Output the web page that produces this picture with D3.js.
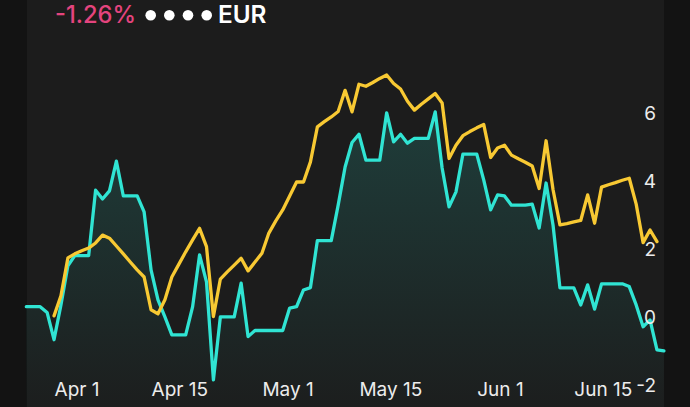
<!DOCTYPE html>
<html>
<head>
<meta charset="utf-8">
<script src="https://d3js.org/d3.v7.min.js"></script>
<style>
  html, body { margin: 0; padding: 0; background: #131313; }
  svg { display: block; }
  text { font-family: Inter, "Noto Sans", sans-serif; }
</style>
</head>
<body>
<svg id="chart" width="690" height="407"></svg>
<script>
// ---- data ----
const headerChange = "-1.26%";
const headerCurrency = "EUR";
const startCyan = "2025-03-28";   // first day of the cyan series (daily)
const startYellow = "2025-04-01"; // first day of the yellow series (daily)
const cyanValues = [
  0.30, 0.30, 0.30, 0.13, -0.67, 0.35, 1.50, 1.80, 1.80, 1.80,
  3.72, 3.46, 3.70, 4.57, 3.55, 3.55, 3.55, 3.08, 1.38, 0.50,
  0.00, -0.53, -0.53, -0.53, 0.30, 1.82, 1.03, -1.85, 0.00, 0.00,
  0.00, 0.99, -0.58, -0.40, -0.40, -0.40, -0.40, -0.40, 0.26, 0.30,
  0.79, 0.86, 2.24, 2.24, 2.24, 3.28, 4.40, 5.12, 5.36, 4.60,
  4.60, 4.60, 5.99, 5.14, 5.36, 5.10, 5.24, 5.24, 5.24, 6.02,
  4.37, 3.23, 3.67, 4.78, 4.78, 4.78, 4.02, 3.14, 3.58, 3.55,
  3.28, 3.28, 3.28, 3.31, 2.61, 3.93, 2.70, 0.85, 0.85, 0.85,
  0.35, 0.94, 0.23, 0.97, 0.97, 0.97, 0.97, 0.89, 0.35, -0.29,
  -0.09, -0.97, -1.00
];
const yellowValues = [
  0.03, 0.62, 1.73, 1.85, 1.94, 2.02, 2.17, 2.40, 2.31, 2.08,
  1.85, 1.61, 1.38, 1.17, 0.21, 0.09, 0.50, 1.17, 1.54, 1.91,
  2.26, 2.60, 2.06, 0.01, 1.11, 1.32, 1.52, 1.72, 1.35, 1.61,
  1.87, 2.46, 2.82, 3.14, 3.55, 3.96, 3.96, 4.55, 5.58, 5.73,
  5.87, 6.03, 6.65, 6.02, 6.83, 6.77, 6.88, 7.00, 7.10, 6.85,
  6.69, 6.33, 6.07, 6.24, 6.40, 6.56, 6.28, 4.65, 5.04, 5.32,
  5.44, 5.55, 5.65, 4.68, 4.96, 5.04, 4.75, 4.64, 4.54, 4.43,
  3.77, 5.17, 3.74, 2.70, 2.74, 2.79, 2.83, 3.58, 2.75, 3.81,
  3.88, 3.94, 4.01, 4.07, 3.31, 2.18, 2.55, 2.21
];
const xTickDates = ["2025-04-01", "2025-04-15", "2025-05-01", "2025-05-15", "2025-06-01", "2025-06-15"];
const yTickValues = [6, 4, 2, 0, -2];

// ---- build ----
const parse = d3.utcParse("%Y-%m-%d");
const toSeries = (start, vals) => vals.map((v, i) => ({ date: d3.utcDay.offset(parse(start), i), value: v }));
const cyan = toSeries(startCyan, cyanValues);
const yellow = toSeries(startYellow, yellowValues);

const W = 690, H = 407;
const svg = d3.select("#chart");

// panel
svg.append("rect").attr("x", 0).attr("y", 0).attr("width", W).attr("height", H).attr("fill", "#131313");
svg.append("rect").attr("x", 27).attr("y", 0).attr("width", 637).attr("height", H).attr("fill", "#1c1c1c");

const x = d3.scaleUtc()
  .domain([parse("2025-03-28"), parse("2025-06-28")])
  .range([26.3, 663.9]);
const y = d3.scaleLinear().domain([-2, 6]).range([385, 112.5]);

// gradient for the area
const defs = svg.append("defs");
const grad = defs.append("linearGradient").attr("id", "cyanFill")
  .attr("gradientUnits", "userSpaceOnUse")
  .attr("x1", 0).attr("y1", y(6)).attr("x2", 0).attr("y2", H);
grad.append("stop").attr("offset", 0).attr("stop-color", "#2de0cf").attr("stop-opacity", 0.17);
grad.append("stop").attr("offset", 1).attr("stop-color", "#2de0cf").attr("stop-opacity", 0.01);

const area = d3.area().x(d => x(d.date)).y0(H).y1(d => y(d.value));
const line = d3.line().x(d => x(d.date)).y(d => y(d.value));

svg.append("path").datum(cyan).attr("d", area).attr("fill", "url(#cyanFill)");
svg.append("path").datum(cyan).attr("d", line)
  .attr("fill", "none").attr("stroke", "#30e4d3").attr("stroke-width", 3.3)
  .attr("stroke-linejoin", "round").attr("stroke-linecap", "round");
svg.append("path").datum(yellow).attr("d", line)
  .attr("fill", "none").attr("stroke", "#f8c933").attr("stroke-width", 3.3)
  .attr("stroke-linejoin", "round").attr("stroke-linecap", "round");

// x axis labels (start-anchored at tick)
const xAxis = d3.axisBottom(x)
  .tickValues(xTickDates.map(parse))
  .tickFormat(d3.utcFormat("%b %-d"))
  .tickSize(0).tickPadding(0);
const gx = svg.append("g").call(xAxis);
gx.select(".domain").remove();
gx.selectAll("text")
  .attr("y", 396).attr("dy", null)
  .attr("text-anchor", "start")
  .attr("fill", "#ececec")
  .style("font-size", "19px")
  .style("font-family", "Inter, 'Noto Sans', sans-serif");

// y axis labels
const yAxis = d3.axisRight(y)
  .tickValues(yTickValues)
  .tickFormat(d => String(d))
  .tickSize(0).tickPadding(0);
const gy = svg.append("g").attr("transform", "translate(656,0)").call(yAxis);
gy.select(".domain").remove();
gy.selectAll("text")
  .attr("x", 0).attr("dy", "0.36em")
  .attr("text-anchor", "end")
  .attr("fill", "#ececec")
  .style("font-size", "19px")
  .style("font-family", "Inter, 'Noto Sans', sans-serif");

// header
svg.append("text").attr("x", 55).attr("y", 23.3)
  .attr("fill", "#e4447e").style("font-size", "24px").style("font-weight", 500)
  .attr("textLength", 81).attr("lengthAdjust", "spacingAndGlyphs")
  .text(headerChange);
[150.7, 169.3, 188, 206.7].forEach(cx => {
  svg.append("circle").attr("cx", cx).attr("cy", 15.3).attr("r", 5.3).attr("fill", "#ffffff");
});
svg.append("text").attr("x", 218).attr("y", 23.3)
  .attr("fill", "#ffffff").style("font-size", "24px").style("font-weight", 600)
  .attr("textLength", 48.5).attr("lengthAdjust", "spacingAndGlyphs")
  .text(headerCurrency);
</script>
</body>
</html>
